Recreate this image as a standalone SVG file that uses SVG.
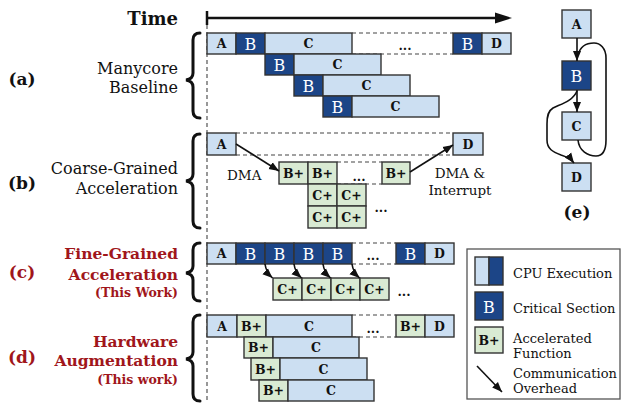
<svg xmlns="http://www.w3.org/2000/svg" width="624" height="403" viewBox="0 0 624 403">
<defs>
<marker id="ah" markerUnits="userSpaceOnUse" markerWidth="10" markerHeight="10" viewBox="0 0 10 10" refX="10" refY="5" orient="auto">
<path d="M0,1 L10,5 L0,9 Z" fill="#111"/>
</marker>
<style>
.l{fill:#CCDFF2;stroke:#333;stroke-width:1.4}
.d{fill:#1C4587;stroke:#333;stroke-width:1.4}
.g{fill:#D9EAD3;stroke:#333;stroke-width:1.4}
.t{font-family:"DejaVu Serif",serif;font-weight:bold;font-size:12.5px;text-anchor:middle;fill:#111}
.w{font-family:"DejaVu Serif",serif;font-size:16px;text-anchor:middle;fill:#fff}
.lab{font-family:"DejaVu Serif",serif;font-size:16px;text-anchor:end;fill:#111}
.red{font-family:"DejaVu Serif",serif;font-weight:bold;font-size:15.5px;text-anchor:end;fill:#A0161B}
.redS{font-family:"DejaVu Serif",serif;font-weight:bold;font-size:12.5px;text-anchor:end;fill:#A0161B}
.pl{font-family:"DejaVu Serif",serif;font-weight:bold;font-size:17px;text-anchor:middle;fill:#111}
.sm{font-family:"DejaVu Serif",serif;font-size:13.5px;fill:#111}
.lg{font-family:"DejaVu Serif",serif;font-size:13px;fill:#111}
.dash{stroke:#444;stroke-width:1.1;stroke-dasharray:4,3;fill:none}
.br{fill:none;stroke:#111;stroke-width:3;stroke-linecap:round}
.ar{fill:none;stroke:#111;stroke-width:1.6}
</style>
</defs>
<rect width="624" height="403" fill="#fff"/>

<!-- time axis -->
<g id="axis">
<text x="178" y="25" font-family="DejaVu Serif,serif" font-weight="bold" font-size="18" text-anchor="end" fill="#111">Time</text>
<line x1="207" y1="18" x2="497" y2="18" stroke="#111" stroke-width="2.5"/>
<polygon points="495,12.5 512,18 495,23.5" fill="#111"/>
<line x1="207" y1="11" x2="207" y2="25" stroke="#111" stroke-width="2.5"/>
<line x1="207" y1="25" x2="207" y2="403" class="dash" stroke="#222"/>
</g>

<!-- row labels and braces -->
<g id="label-a">
<text x="22" y="85" class="pl">(a)</text>
<text x="178" y="74" class="lab">Manycore</text>
<text x="178" y="93" class="lab">Baseline</text>
<path class="br" d="M200,33 Q193,33 193,40 L193,73 Q193,79 186,80 Q193,81 193,87 L193,111 Q193,118 200,118"/>
</g>
<g id="label-b">
<text x="22" y="189" class="pl">(b)</text>
<text x="178" y="174" class="lab">Coarse-Grained</text>
<text x="178" y="194" class="lab">Acceleration</text>
<path class="br" d="M200,134 Q193,134 193,141 L193,174 Q193,180 186,181 Q193,182 193,188 L193,221 Q193,228 200,228"/>
</g>
<g id="label-c">
<text x="22" y="278" class="pl" fill="#A0161B" style="fill:#A0161B">(c)</text>
<text x="178" y="259" class="red">Fine-Grained</text>
<text x="178" y="280" class="red">Acceleration</text>
<text x="178" y="297" class="redS">(This Work)</text>
<path class="br" d="M200,243 Q193,243 193,250 L193,266 Q193,272 186,273 Q193,274 193,280 L193,294 Q193,301 200,301"/>
</g>
<g id="label-d">
<text x="22" y="363" class="pl" style="fill:#A0161B">(d)</text>
<text x="178" y="347" class="red">Hardware</text>
<text x="178" y="366" class="red">Augmentation</text>
<text x="178" y="384" class="redS">(This work)</text>
<path class="br" d="M200,315 Q193,315 193,322 L193,352 Q193,358 186,359 Q193,360 193,366 L193,394 Q193,401 200,401"/>
</g>

<!-- (a) manycore baseline -->
<g id="row-a">
<line x1="352" y1="33" x2="453" y2="33" class="dash"/>
<line x1="352" y1="54" x2="453" y2="54" class="dash"/>
<text x="405" y="50" class="t">...</text>
<g id="a1-A"><rect x="207" y="33" width="29" height="21" class="l"/><text x="221.5" y="48" class="t">A</text></g>
<g id="a1-B"><rect x="236" y="33" width="29" height="21" class="d"/><text x="250.5" y="49.5" class="w">B</text></g>
<g id="a1-C"><rect x="265" y="33" width="87" height="21" class="l"/><text x="308.5" y="48" class="t">C</text></g>
<g id="a1-B2"><rect x="453" y="33" width="29" height="21" class="d"/><text x="467.5" y="49.5" class="w">B</text></g>
<g id="a1-D"><rect x="482" y="33" width="29" height="21" class="l"/><text x="496.5" y="48" class="t">D</text></g>
<g id="a2-B"><rect x="265" y="54" width="29" height="21" class="d"/><text x="279.5" y="70.5" class="w">B</text></g>
<g id="a2-C"><rect x="294" y="54" width="87" height="21" class="l"/><text x="337.5" y="69" class="t">C</text></g>
<g id="a3-B"><rect x="294" y="75" width="29" height="21" class="d"/><text x="308.5" y="91.5" class="w">B</text></g>
<g id="a3-C"><rect x="323" y="75" width="87" height="21" class="l"/><text x="366.5" y="90" class="t">C</text></g>
<g id="a4-B"><rect x="323" y="96" width="29" height="21" class="d"/><text x="337.5" y="112.5" class="w">B</text></g>
<g id="a4-C"><rect x="352" y="96" width="87" height="21" class="l"/><text x="395.5" y="111" class="t">C</text></g>
</g>

<!-- (b) coarse-grained -->
<g id="row-b">
<line x1="236" y1="133" x2="453" y2="133" class="dash"/>
<line x1="236" y1="155" x2="453" y2="155" class="dash"/>
<line x1="337" y1="162" x2="382" y2="162" class="dash"/>
<line x1="337" y1="184" x2="382" y2="184" class="dash"/>
<text x="359" y="181" class="t">...</text>
<text x="381" y="212" class="t">...</text>
<g id="b-A"><rect x="207" y="133" width="29" height="22" class="l"/><text x="221.5" y="148.5" class="t">A</text></g>
<g id="b-D"><rect x="453" y="133" width="30" height="22" class="l"/><text x="468" y="148.5" class="t">D</text></g>
<g id="b-B1"><rect x="279" y="162" width="29" height="22" class="g"/><text x="293.5" y="177.5" class="t">B+</text></g>
<g id="b-B2"><rect x="308" y="162" width="29" height="22" class="g"/><text x="322.5" y="177.5" class="t">B+</text></g>
<g id="b-B3"><rect x="382" y="162" width="28" height="22" class="g"/><text x="396" y="177.5" class="t">B+</text></g>
<g id="b-C1"><rect x="308" y="184" width="29" height="22" class="g"/><text x="322.5" y="199.5" class="t">C+</text></g>
<g id="b-C2"><rect x="337" y="184" width="29" height="22" class="g"/><text x="351.5" y="199.5" class="t">C+</text></g>
<g id="b-C3"><rect x="308" y="206" width="29" height="22" class="g"/><text x="322.5" y="221.5" class="t">C+</text></g>
<g id="b-C4"><rect x="337" y="206" width="29" height="22" class="g"/><text x="351.5" y="221.5" class="t">C+</text></g>
<text x="227" y="180" class="sm">DMA</text>
<text x="460" y="178" class="sm" text-anchor="middle">DMA &amp;</text>
<text x="460" y="195" class="sm" text-anchor="middle">Interrupt</text>
</g>

<!-- (c) fine-grained -->
<g id="row-c">
<line x1="352" y1="243" x2="396" y2="243" class="dash"/>
<line x1="352" y1="264" x2="396" y2="264" class="dash"/>
<text x="373" y="260" class="t">...</text>
<text x="404" y="296" class="t">...</text>
<g id="c-A"><rect x="207" y="243" width="29" height="21" class="l"/><text x="221.5" y="258" class="t">A</text></g>
<g id="c-B1"><rect x="236" y="243" width="29" height="21" class="d"/><text x="250.5" y="259.5" class="w">B</text></g>
<g id="c-B2"><rect x="265" y="243" width="29" height="21" class="d"/><text x="279.5" y="259.5" class="w">B</text></g>
<g id="c-B3"><rect x="294" y="243" width="29" height="21" class="d"/><text x="308.5" y="259.5" class="w">B</text></g>
<g id="c-B4"><rect x="323" y="243" width="29" height="21" class="d"/><text x="337.5" y="259.5" class="w">B</text></g>
<g id="c-B5"><rect x="396" y="243" width="29" height="21" class="d"/><text x="410.5" y="259.5" class="w">B</text></g>
<g id="c-D"><rect x="425" y="243" width="29" height="21" class="l"/><text x="439.5" y="258" class="t">D</text></g>
<g id="c-C1"><rect x="273" y="278" width="29" height="22" class="g"/><text x="287.5" y="293.5" class="t">C+</text></g>
<g id="c-C2"><rect x="302" y="278" width="29" height="22" class="g"/><text x="316.5" y="293.5" class="t">C+</text></g>
<g id="c-C3"><rect x="331" y="278" width="29" height="22" class="g"/><text x="345.5" y="293.5" class="t">C+</text></g>
<g id="c-C4"><rect x="360" y="278" width="29" height="22" class="g"/><text x="374.5" y="293.5" class="t">C+</text></g>
</g>

<!-- (d) hardware augmentation -->
<g id="row-d">
<line x1="352" y1="315" x2="396" y2="315" class="dash"/>
<line x1="352" y1="337" x2="396" y2="337" class="dash"/>
<text x="373" y="333" class="t">...</text>
<g id="d1-A"><rect x="207" y="315" width="30" height="22" class="l"/><text x="222" y="330.5" class="t">A</text></g>
<g id="d1-B"><rect x="237" y="315" width="29" height="22" class="g"/><text x="251.5" y="330.5" class="t">B+</text></g>
<g id="d1-C"><rect x="266" y="315" width="86" height="22" class="l"/><text x="309" y="330.5" class="t">C</text></g>
<g id="d1-B2"><rect x="396" y="315" width="29" height="22" class="g"/><text x="410.5" y="330.5" class="t">B+</text></g>
<g id="d1-D"><rect x="425" y="315" width="29" height="22" class="l"/><text x="439.5" y="330.5" class="t">D</text></g>
<g id="d2-B"><rect x="244" y="337" width="29" height="21" class="g"/><text x="258.5" y="352" class="t">B+</text></g>
<g id="d2-C"><rect x="273" y="337" width="86" height="21" class="l"/><text x="316" y="352" class="t">C</text></g>
<g id="d3-B"><rect x="251" y="358" width="29" height="22" class="g"/><text x="265.5" y="373.5" class="t">B+</text></g>
<g id="d3-C"><rect x="280" y="358" width="87" height="22" class="l"/><text x="323.5" y="373.5" class="t">C</text></g>
<g id="d4-B"><rect x="259" y="380" width="29" height="21" class="g"/><text x="273.5" y="395" class="t">B+</text></g>
<g id="d4-C"><rect x="288" y="380" width="86" height="21" class="l"/><text x="331" y="395" class="t">C</text></g>
</g>

<!-- (e) graph -->
<g id="graph-e">
<g id="e-A"><rect x="562" y="10" width="29" height="28" class="l"/><text x="576.5" y="29" class="t">A</text></g>
<g id="e-B"><rect x="562" y="61" width="29" height="29" class="d"/><text x="576.5" y="81.5" class="w">B</text></g>
<g id="e-C"><rect x="562" y="112" width="29" height="28" class="l"/><text x="576.5" y="131" class="t">C</text></g>
<g id="e-D"><rect x="562" y="163" width="29" height="28" class="l"/><text x="576.5" y="182" class="t">D</text></g>
<text x="577" y="218" class="pl" font-size="18">(e)</text>
</g>

<!-- legend -->
<g id="legend">
<rect x="467" y="249" width="153" height="150" fill="#fff" stroke="#555" stroke-width="1.3"/>
<g id="lg-cpu"><rect x="475" y="257" width="14" height="28" class="l"/><rect x="489" y="257" width="14" height="28" class="d"/>
<text x="513" y="278" class="lg">CPU Execution</text></g>
<g id="lg-crit"><rect x="475" y="292" width="28" height="28" class="d"/><text x="489" y="312.5" class="w">B</text>
<text x="513" y="313" class="lg">Critical Section</text></g>
<g id="lg-acc"><rect x="475" y="327" width="28" height="26" class="g"/><text x="489" y="344.5" class="t">B+</text>
<text x="513" y="343" class="lg">Accelerated</text>
<text x="513" y="358" class="lg">Function</text></g>
<g id="lg-comm"><text x="513" y="378" class="lg">Communication</text>
<text x="513" y="393" class="lg">Overhead</text></g>
</g>

<!-- connectors -->
<g id="connectors">
<line x1="236" y1="144" x2="279" y2="171" class="ar" marker-end="url(#ah)"/>
<line x1="410" y1="172" x2="453" y2="145" class="ar" marker-end="url(#ah)"/>
<path d="M265,264 Q266,272 272.5,278" class="ar" marker-end="url(#ah)"/>
<path d="M294,264 Q295,272 301.5,278" class="ar" marker-end="url(#ah)"/>
<path d="M323,264 Q324,272 330.5,278" class="ar" marker-end="url(#ah)"/>
<path d="M352,264 Q353,272 359.5,278" class="ar" marker-end="url(#ah)"/>
<line x1="577" y1="38" x2="577" y2="61" class="ar" marker-end="url(#ah)"/>
<line x1="577" y1="90" x2="577" y2="112" class="ar" marker-end="url(#ah)"/>
<path d="M578,140 C579,151 588,156 596,156 C603,156 606,150 606,140 L606,58 C606,48 600,43 594,43 C586,43 580,47 578,55" class="ar"/>
<path d="M577,91 C573,101 561,104 553,108 C548,111 547,116 547,124 L547,140 C547,149 553,152 561,155 C567,157 571,159 574,163" class="ar" marker-end="url(#ah)"/>
<line x1="477" y1="366" x2="502" y2="392" class="ar" marker-end="url(#ah)"/>
</g>
</svg>
